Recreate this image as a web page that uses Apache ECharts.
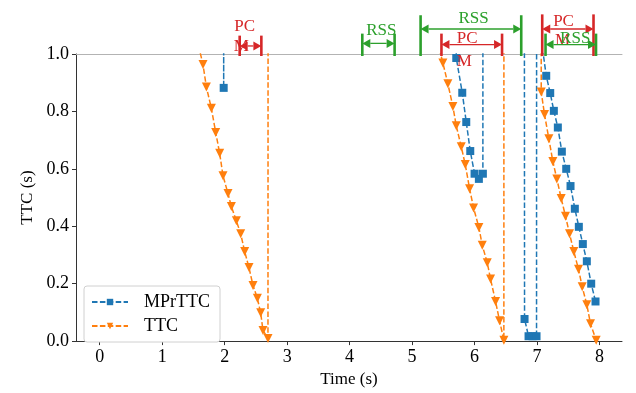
<!DOCTYPE html>
<html>
<head>
<meta charset="utf-8">
<script src="https://cdn.jsdelivr.net/npm/echarts@6/dist/echarts.min.js"></script>
<style>
  html, body { margin: 0; padding: 0; background: #fff; }
  #chart { width: 636px; height: 393px; }
</style>
</head>
<body>
<div id="chart"></div>
<script>
// tick labels
const xTicks = [0, 1, 2, 3, 4, 5, 6, 7, 8];

// MPrTTC pieces, [time, ttc]; 20 = off the top (jump)
const mprLeft = [[1.984, 20], [1.984, 0.882], [1.99, 20]];
const mprMid = [[5.68, 20], [5.707, 0.986], [5.803, 0.865], [5.867, 0.763], [5.931, 0.662],
  [6.0, 0.583], [6.069, 0.565], [6.133, 0.583], [6.149, 20]];
const mprLow = [[6.755, 20], [6.8, 0.077], [6.864, 0.017], [6.928, 0.017], [6.992, 0.017], [7.01, 20]];
const mprRight = [[7.075, 1.04], [7.147, 0.924], [7.211, 0.864], [7.269, 0.802], [7.333, 0.744],
  [7.397, 0.660], [7.467, 0.600], [7.536, 0.540], [7.605, 0.461], [7.669, 0.398],
  [7.733, 0.338], [7.797, 0.278], [7.867, 0.200], [7.936, 0.138]];

// TTC pieces
const ttcLeft = [[1.58, 1.03], [1.653, 0.963], [1.707, 0.885], [1.787, 0.811], [1.856, 0.727],
  [1.92, 0.654], [1.973, 0.576], [2.053, 0.514], [2.107, 0.469], [2.187, 0.419],
  [2.256, 0.374], [2.32, 0.312], [2.389, 0.256], [2.453, 0.194], [2.523, 0.149],
  [2.576, 0.099], [2.613, 0.037], [2.693, 0.009], [2.72, 20]];
const ttcMid = [[5.41, 1.04], [5.493, 0.969], [5.573, 0.896], [5.653, 0.817], [5.707, 0.750],
  [5.787, 0.677], [5.851, 0.615], [5.92, 0.531], [5.984, 0.464], [6.069, 0.396],
  [6.123, 0.334], [6.203, 0.273], [6.256, 0.216], [6.336, 0.138], [6.4, 0.071],
  [6.469, 0.003], [6.48, 20]];
const ttcRight = [[7.04, 20], [7.067, 0.868], [7.12, 0.789], [7.189, 0.705], [7.253, 0.626],
  [7.317, 0.565], [7.387, 0.497], [7.456, 0.435], [7.52, 0.374], [7.589, 0.312],
  [7.664, 0.250], [7.723, 0.189], [7.797, 0.127], [7.856, 0.060], [7.947, 0.003]];

// interval marks above the plot: [start, end, arrow level, bar top]
const pcSpans = [[2.24, 2.587, 1.028, 1.064], [5.47, 6.44, 1.033, 1.071], [7.083, 7.904, 1.087, 1.138]];
const pcText = [[2.32, 1.095], [5.88, 1.053], [7.424, 1.114]];
const mText = [[2.267, 1.025], [5.835, 0.974], [7.408, 1.047]];
const rssSpans = [[4.203, 4.72, 1.037, 1.071], [5.136, 6.747, 1.087, 1.135], [7.136, 7.944, 1.033, 1.071]];
const rssText = [[4.507, 1.081], [5.984, 1.122], [7.611, 1.053]];

const BLUE = '#1f77b4', ORANGE = '#ff7f0e', RED = '#d62728', GREEN = '#2ca02c';
const FONT = 'Liberation Serif';
const XMIN = -0.38, XMAX = 8.36;

// bar + double arrow + labels
function spanRender(color, labels) {
  return function (params, api) {
    const a = api.coord([api.value(0), api.value(2)]);
    const b = api.coord([api.value(1), api.value(2)]);
    const top = api.coord([api.value(0), api.value(3)])[1];
    const bot = api.coord([api.value(0), 0.993])[1];
    const L = 8, W = 4.5;
    const kids = [
      { type: 'line', shape: { x1: a[0], y1: top, x2: a[0], y2: bot }, style: { stroke: color, lineWidth: 2.6 } },
      { type: 'line', shape: { x1: b[0], y1: top, x2: b[0], y2: bot }, style: { stroke: color, lineWidth: 2.6 } },
      { type: 'line', shape: { x1: a[0] + L, y1: a[1], x2: b[0] - L, y2: b[1] }, style: { stroke: color, lineWidth: 1.3 } },
      { type: 'polygon', shape: { points: [[a[0], a[1]], [a[0] + L, a[1] - W], [a[0] + L, a[1] + W]] }, style: { fill: color } },
      { type: 'polygon', shape: { points: [[b[0], b[1]], [b[0] - L, b[1] - W], [b[0] - L, b[1] + W]] }, style: { fill: color } }
    ];
    labels.forEach(function (lab, k) {
      const p = api.coord([api.value(4 + 2 * k), api.value(5 + 2 * k)]);
      kids.push({
        type: 'text', x: p[0], y: p[1],
        style: { text: lab, fill: color, fontSize: 17, fontFamily: FONT, align: 'center', verticalAlign: 'middle' }
      });
    });
    return { type: 'group', children: kids };
  };
}

const chart = echarts.init(document.getElementById('chart'));
chart.setOption({
  animation: false,
  textStyle: { fontFamily: FONT },
  grid: { left: 76, right: 14, top: 54, bottom: 42 },
  legend: {
    orient: 'vertical', left: 84, top: 286,
    padding: [7, 10, 7, 7],
    itemWidth: 36, itemHeight: 8, itemGap: 6,
    backgroundColor: '#fff', borderColor: '#d0d0d0', borderWidth: 1, borderRadius: 3,
    textStyle: { fontSize: 18, fontFamily: FONT, color: '#000', padding: [0, 0, 0, 11] },
    data: ['MPrTTC', 'TTC']
  },
  xAxis: [{
    type: 'value', min: XMIN, max: XMAX,
    name: 'Time (s)', nameLocation: 'middle', nameGap: 24,
    nameTextStyle: { fontSize: 17, fontFamily: FONT, color: '#000' },
    axisLine: { onZero: false, lineStyle: { color: '#333', width: 1 } },
    axisTick: { customValues: xTicks, length: 4, lineStyle: { color: '#333' } },
    axisLabel: { customValues: xTicks, fontSize: 18, fontFamily: FONT, color: '#000', margin: 7 },
    splitLine: { show: false }
  }, {
    type: 'value', min: XMIN, max: XMAX, position: 'top',
    axisLine: { onZero: false, lineStyle: { color: '#b3b3b3', width: 1 } },
    axisTick: { show: false }, axisLabel: { show: false }, splitLine: { show: false }
  }],
  yAxis: {
    type: 'value', min: 0, max: 1, interval: 0.2,
    name: 'TTC (s)', nameLocation: 'middle', nameGap: 38,
    nameTextStyle: { fontSize: 17, fontFamily: FONT, color: '#000' },
    axisLine: { show: true, onZero: false, lineStyle: { color: '#333', width: 1 } },
    axisTick: { show: true, length: 4, lineStyle: { color: '#333' } },
    axisLabel: { fontSize: 18, fontFamily: FONT, color: '#000', margin: 7, formatter: v => v.toFixed(1) },
    splitLine: { show: false }
  },
  series: [{
    name: 'MPrTTC', type: 'line', clip: true,
    data: mprLeft.concat(mprMid, mprLow, mprRight),
    symbol: 'rect', symbolSize: 8, showAllSymbol: true,
    lineStyle: { color: BLUE, width: 1.5, type: [5.5, 2.4] },
    itemStyle: { color: BLUE }
  }, {
    name: 'TTC', type: 'line', clip: true,
    data: ttcLeft.concat(ttcMid, ttcRight),
    symbol: 'triangle', symbolRotate: 180, symbolSize: 9, showAllSymbol: true,
    lineStyle: { color: ORANGE, width: 1.5, type: [5.5, 2.4] },
    itemStyle: { color: ORANGE }
  }, {
    type: 'custom', renderItem: spanRender(RED, ['PC', 'M']), z: 5,
    encode: { x: [0, 1], y: [2, 3] },
    data: pcSpans.map((s, i) => s.concat(pcText[i], mText[i]))
  }, {
    type: 'custom', renderItem: spanRender(GREEN, ['RSS']), z: 6,
    encode: { x: [0, 1], y: [2, 3] },
    data: rssSpans.map((s, i) => s.concat(rssText[i]))
  }]
});
</script>
</body>
</html>
